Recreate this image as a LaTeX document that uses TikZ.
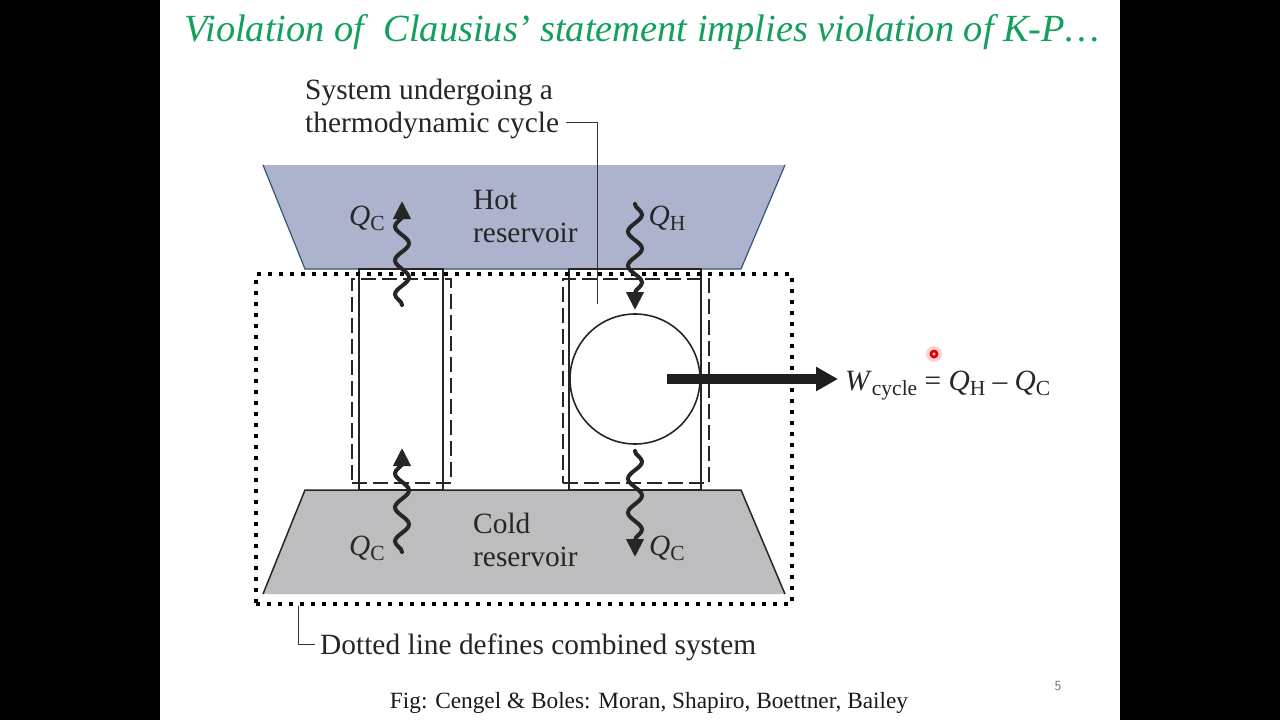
\documentclass[tikz,border=0pt]{standalone}
\usepackage{fontspec}
\setmainfont{Liberation Serif}
\usetikzlibrary{positioning,arrows.meta,decorations.pathmorphing,calc}
\definecolor{hotfill}{HTML}{ADB3CD}
\definecolor{hotedge}{HTML}{2F5878}
\definecolor{coldfill}{HTML}{BDBDC0}
\definecolor{titlegreen}{HTML}{12A05C}
\newcommand{\heatq}[2]{\textit{#1}\lower5pt\hbox{\fontsize{21.5}{21}\selectfont #2}}
\begin{document}
\begin{tikzpicture}[x=1pt,y=-1pt]
    % Define styles
    \tikzstyle{label} = [font=\fontsize{29.4}{33}\selectfont, text=black!85, inner sep=0pt, align=left]
    \tikzstyle{heat} = [font=\fontsize{29.4}{33}\selectfont, text=black!85, inner sep=0pt]
    \tikzstyle{sysbox} = [rectangle, draw=black!85, line width=1.6pt, inner sep=0pt]
    \tikzstyle{dashbox} = [rectangle, draw=black!85, line width=1.5pt, inner sep=0pt, dash pattern=on 15pt off 6pt]
    \tikzstyle{wavy} = [line width=4pt, black!85, line cap=round, -{Triangle[length=18pt,width=17pt]},
        decorate, decoration={snake, amplitude=7pt, segment length=34pt, post length=13pt}]
    \tikzstyle{leader} = [line width=1pt, black!80]

    % Slide
    \fill [black] (0,0) rectangle (1280,720);
    \fill [white] (160,0) rectangle (1120,720);
    \useasboundingbox (0,0) rectangle (1280,720);

    % Reservoirs
    \coordinate (hotA) at (263,165);
    \coordinate (hotB) at (785,165);
    \coordinate (hotC) at (741,269);
    \coordinate (hotD) at (305,269);
    \coordinate (coldA) at (305,490);
    \coordinate (coldB) at (741,490);
    \coordinate (coldC) at (785,594);
    \coordinate (coldD) at (263,594);
    \fill [hotfill] (hotA) -- (hotB) -- (hotC) -- (hotD) -- cycle;
    \draw [hotedge, line width=1.2pt] (hotB) -- (hotC) -- (hotD) -- (hotA);
    \fill [coldfill] (coldA) -- (coldB) -- (coldC) -- (coldD) -- cycle;
    \draw [black!85, line width=1.5pt] (coldD) -- (coldA) -- (coldB) -- (coldC);

    % Nodes
    \node [sysbox, minimum width=84pt, minimum height=221pt] (leftsys) at (401,379.5) {};
    \node [sysbox, minimum width=132pt, minimum height=221pt] (rightsys) at (635,379.5) {};
    \node [dashbox, minimum width=99pt, minimum height=204pt] (leftdash) at (401.5,381) {};
    \node [dashbox, minimum width=146pt, minimum height=204pt] (rightdash) at (636,381) {};
    \node [circle, draw=black!85, line width=1.6pt, fill=white, minimum size=130pt, inner sep=0pt] (engine) at (635,379) {};
    \node [rectangle, draw=black, line width=4pt, dash pattern=on 4pt off 7pt, minimum width=536pt, minimum height=330pt, inner sep=0pt] (combined) at (524,439) {};

    \node [label, anchor=west] (hotname) at (473,216.5) {Hot\\reservoir};
    \node [label, anchor=west] (coldname) at (473,540) {Cold\\reservoir};
    \node [label, anchor=west] (sysnote) at (305,109) {System undergoing a\\thermodynamic cycle};
    \node [label, anchor=west] (dotnote) at (320,647) {Dotted line defines combined system};

    \node [heat] (qcup) at (367,218) {\heatq{Q}{C}};
    \node [heat] (qh) at (667,218) {\heatq{Q}{H}};
    \node [heat] (qcin) at (367,548) {\heatq{Q}{C}};
    \node [heat] (qcout) at (667,548) {\heatq{Q}{C}};
    \node [heat, anchor=west, inner sep=8pt] (workeq) at (837,386) {\heatq{W}{cycle} = \heatq{Q}{H} -- \heatq{Q}{C}};

    % Arrows
    \coordinate (waveAs) at (402,305);
    \coordinate (waveAe) at (402,201);
    \coordinate (waveBs) at (635,204);
    \coordinate (waveBe) at (635,310);
    \coordinate (waveCs) at (402,552);
    \coordinate (waveCe) at (402,448);
    \coordinate (waveDs) at (635,451);
    \coordinate (waveDe) at (635,557);
    \draw [wavy] (waveAs) -- (waveAe);
    \draw [wavy] (waveBs) -- (waveBe);
    \draw [wavy] (waveCs) -- (waveCe);
    \draw [wavy] (waveDs) -- (waveDe);
    \draw [line width=9.5pt, black!88, -{Triangle[length=22pt,width=23pt]}] ([xshift=32pt]engine.center) -- ([xshift=1pt]engine.center -| workeq.west);

    % Leader lines
    \coordinate (sysend) at (597,304);
    \coordinate (dotend) at (298,606);
    \draw [leader] ([xshift=7pt,yshift=-13pt]sysnote.east) -| (sysend);
    \draw [leader] ([xshift=-5pt,yshift=3pt]dotnote.west) -| (dotend);

    % Title and caption
    \node [font=\fontsize{38.4}{40}\selectfont\itshape, text=titlegreen, inner sep=0pt] (slidetitle) at (642,32)
        {Violation of\ \ Clausius’ statement implies violation of K-P…};
    \node [font=\fontsize{23.3}{26}\selectfont, text=black!90, inner sep=0pt] (caption) at (649,703)
        {Fig: Cengel \& Boles: Moran, Shapiro, Boettner, Bailey};
    \node [font=\fontsize{14}{15}\selectfont\sffamily, text=black!55, inner sep=0pt] (pagenum) at (1058,686) {5};

    % Pointer
    \fill [red!18] (934,354) circle (8);
    \fill [red!90!black] (934,354) circle (4.5);
    \fill [white!85!red] (934,354) circle (1.7);
\end{tikzpicture}
\end{document}
